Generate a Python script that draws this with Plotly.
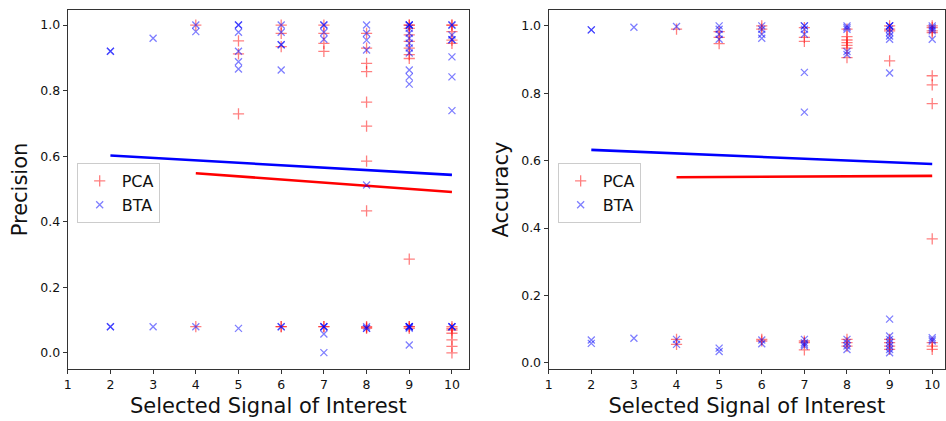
import plotly.graph_objects as go

# ---------------- Left panel: Precision ----------------
prec_pca_x = [4, 4,
              5, 5, 5,
              6, 6, 6, 6, 6,
              7, 7, 7, 7, 7, 7,
              8, 8, 8, 8, 8, 8, 8, 8, 8, 8, 8,
              9, 9, 9, 9, 9, 9, 9, 9, 9, 9, 9, 9,
              10, 10, 10, 10, 10, 10, 10, 10, 10, 10, 10, 10]
prec_pca_y = [1.0, 0.08,
              0.952, 0.912, 0.729,
              1.0, 0.975, 0.934, 0.08, 0.08,
              1.0, 0.975, 0.944, 0.92, 0.08, 0.08,
              0.975, 0.93, 0.883, 0.858, 0.765, 0.692, 0.585, 0.433, 0.08, 0.075, 0.078,
              1.0, 1.0, 0.99, 0.97, 0.95, 0.93, 0.91, 0.898, 0.286, 0.08, 0.08, 0.075,
              1.0, 1.0, 0.98, 0.954, 0.944, 0.08, 0.07, 0.06, 0.04, 0.02, 0.0, 0.075]

prec_bta_x = [2, 2, 2, 2,
              3, 3,
              4, 4, 4,
              5, 5, 5, 5, 5, 5, 5,
              6, 6, 6, 6, 6, 6, 6,
              7, 7, 7, 7, 7, 7, 7, 7, 7,
              8, 8, 8, 8, 8, 8, 8, 8,
              9, 9, 9, 9, 9, 9, 9, 9, 9, 9, 9, 9, 9, 9, 9, 9, 9, 9,
              10, 10, 10, 10, 10, 10, 10, 10, 10, 10, 10]
prec_bta_y = [0.92, 0.92, 0.08, 0.08,
              0.96, 0.08,
              1.0, 0.98, 0.08,
              1.0, 1.0, 0.978, 0.92, 0.888, 0.866, 0.075,
              1.0, 0.978, 0.94, 0.94, 0.863, 0.08, 0.08,
              1.0, 1.0, 0.978, 0.957, 0.08, 0.08, 0.08, 0.058, 0.001,
              1.0, 0.975, 0.954, 0.924, 0.512, 0.08, 0.075, 0.075,
              1.0, 1.0, 1.0, 0.99, 0.975, 0.96, 0.945, 0.93, 0.915, 0.863, 0.842, 0.82, 0.08, 0.08, 0.08, 0.08, 0.075, 0.024,
              1.0, 1.0, 0.97, 0.955, 0.955, 0.903, 0.842, 0.739, 0.08, 0.08, 0.08]

prec_trend_bta_x = [2, 10]
prec_trend_bta_y = [0.602, 0.543]
prec_trend_pca_x = [4, 10]
prec_trend_pca_y = [0.548, 0.491]

# ---------------- Right panel: Accuracy ----------------
acc_pca_x = [4, 4, 4,
             5, 5, 5,
             6, 6, 6, 6,
             7, 7, 7, 7, 7, 7,
             8, 8, 8, 8, 8, 8, 8, 8, 8, 8,
             9, 9, 9, 9, 9, 9, 9, 9,
             10, 10, 10, 10, 10, 10, 10, 10, 10, 10, 10]
acc_pca_y = [0.99, 0.07, 0.055,
             0.983, 0.966, 0.947,
             1.0, 0.99, 0.07, 0.065,
             0.995, 0.966, 0.954, 0.065, 0.06, 0.039,
             0.99, 0.968, 0.958, 0.95, 0.942, 0.934, 0.906, 0.07, 0.06, 0.05,
             1.0, 0.99, 0.985, 0.896, 0.07, 0.06, 0.05, 0.04,
             1.0, 0.995, 0.985, 0.98, 0.852, 0.825, 0.769, 0.368, 0.06, 0.05, 0.04]

acc_bta_x = [2, 2, 2, 2,
             3, 3,
             4, 4, 4,
             5, 5, 5, 5, 5, 5,
             6, 6, 6, 6, 6, 6,
             7, 7, 7, 7, 7, 7, 7, 7, 7, 7,
             8, 8, 8, 8, 8, 8, 8, 8, 8,
             9, 9, 9, 9, 9, 9, 9, 9, 9, 9, 9, 9, 9, 9, 9,
             10, 10, 10, 10, 10, 10, 10, 10]
acc_bta_y = [0.988, 0.988, 0.068, 0.058,
             0.996, 0.073,
             0.998, 0.07, 0.055,
             1.0, 0.99, 0.975, 0.96, 0.044, 0.034,
             1.0, 0.99, 0.975, 0.963, 0.068, 0.057,
             1.0, 1.0, 0.99, 0.975, 0.862, 0.744, 0.07, 0.06, 0.055, 0.05,
             1.0, 0.995, 0.99, 0.924, 0.915, 0.07, 0.06, 0.05, 0.04,
             1.0, 1.0, 1.0, 0.99, 0.98, 0.97, 0.96, 0.86, 0.13, 0.08, 0.07, 0.06, 0.05, 0.04, 0.03,
             1.0, 0.995, 0.99, 0.985, 0.96, 0.075, 0.07, 0.065]

acc_trend_bta_x = [2, 10]
acc_trend_bta_y = [0.632, 0.590]
acc_trend_pca_x = [4, 10]
acc_trend_pca_y = [0.551, 0.555]

y_ticks = [0.0, 0.2, 0.4, 0.6, 0.8, 1.0]
x_ticks = [1, 2, 3, 4, 5, 6, 7, 8, 9, 10]

FONT = "DejaVu Sans"
RED = "rgba(255,0,0,0.5)"
BLUE = "rgba(0,0,255,0.5)"

fig = go.Figure()


def add_panel(xa, ya, legend, px, py, bx, by, tbx, tby, tpx, tpy):
    fig.add_trace(go.Scatter(
        x=tbx, y=tby, mode="lines", showlegend=False, xaxis=xa, yaxis=ya,
        line=dict(color="blue", width=2.6)))
    fig.add_trace(go.Scatter(
        x=tpx, y=tpy, mode="lines", showlegend=False, xaxis=xa, yaxis=ya,
        line=dict(color="red", width=2.6)))
    fig.add_trace(go.Scatter(
        x=px, y=py, mode="markers", name="PCA", xaxis=xa, yaxis=ya, legend=legend,
        marker=dict(symbol="cross-thin", size=8, color=RED,
                    line=dict(color=RED, width=1.3))))
    fig.add_trace(go.Scatter(
        x=bx, y=by, mode="markers", name="BTA", xaxis=xa, yaxis=ya, legend=legend,
        marker=dict(symbol="x-thin", size=7, color=BLUE,
                    line=dict(color=BLUE, width=1.3))))


add_panel("x", "y", "legend", prec_pca_x, prec_pca_y, prec_bta_x, prec_bta_y,
          prec_trend_bta_x, prec_trend_bta_y, prec_trend_pca_x, prec_trend_pca_y)
add_panel("x2", "y2", "legend2", acc_pca_x, acc_pca_y, acc_bta_x, acc_bta_y,
          acc_trend_bta_x, acc_trend_bta_y, acc_trend_pca_x, acc_trend_pca_y)

axis_common = dict(showline=True, mirror=True, linecolor="#333", linewidth=1.2,
                   ticks="outside", ticklen=4, tickwidth=1, tickcolor="#333",
                   showgrid=False, zeroline=False,
                   tickfont=dict(family=FONT, size=12.5, color="#111"))

legend_common = dict(font=dict(family=FONT, size=16, color="#111"),
                     bgcolor="rgba(255,255,255,0.8)", bordercolor="#ccc", borderwidth=1,
                     xanchor="left", yanchor="top", itemwidth=34, tracegroupgap=0,
                     traceorder="normal")

PLOT_TOP = 10
PLOT_H = 359

fig.update_layout(
    width=946, height=421,
    margin=dict(l=0, r=0, t=PLOT_TOP, b=421 - PLOT_TOP - PLOT_H),
    plot_bgcolor="white", paper_bgcolor="white",
    font=dict(family=FONT, color="#111"),
    xaxis=dict(domain=[64 / 946, 467 / 946], range=[1, 10.4], tickvals=x_ticks,
               title=dict(text="Selected Signal of Interest", font=dict(family=FONT, size=21), standoff=7),
               **axis_common),
    yaxis=dict(domain=[0, 1], range=[-0.049, 1.046], tickvals=y_ticks, tickformat=".1f",
               title=dict(text="Precision", font=dict(family=FONT, size=21), standoff=6),
               **axis_common),
    xaxis2=dict(domain=[547 / 946, 945 / 946], range=[1, 10.3], tickvals=x_ticks, anchor="y2",
                title=dict(text="Selected Signal of Interest", font=dict(family=FONT, size=21), standoff=7),
                **axis_common),
    yaxis2=dict(domain=[0, 1], range=[-0.018, 1.047], tickvals=y_ticks, tickformat=".1f", anchor="x2",
                title=dict(text="Accuracy", font=dict(family=FONT, size=21), standoff=6),
                **axis_common),
    legend=dict(x=73 / 946, y=1 - (163 - PLOT_TOP) / PLOT_H, **legend_common),
    legend2=dict(x=556 / 946, y=1 - (163 - PLOT_TOP) / PLOT_H, **legend_common),
)

fig.write_html("out.html")
